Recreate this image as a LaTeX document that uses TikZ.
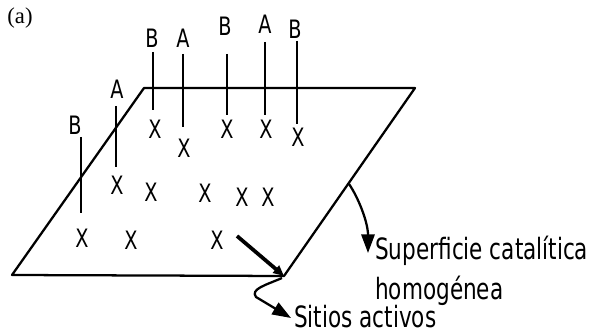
\documentclass[tikz,border=0pt]{standalone}
\usepackage{fontspec}
\setmainfont{Liberation Serif}
\newfontfamily\lettering{DejaVu Sans}
\usetikzlibrary{arrows.meta}

% condensed lettering, as in the drawn figure
\newcommand{\narrow}[1]{\scalebox{0.76}[1]{\lettering #1}}
\newcommand{\narrowtext}[1]{\scalebox{0.735}[1]{\lettering #1}}

\tikzset{
  surface/.style={line width=1.7},
  site/.style={line width=1.1},
  sitelabel/.style={inner sep=0pt,font=\fontsize{19}{19}\selectfont},
  caption/.style={inner sep=0pt,anchor=base west,font=\fontsize{22}{24}\selectfont},
  bigtip/.style={-{Triangle[length=14pt,width=10pt]}}
}

\begin{document}
\begin{tikzpicture}[x=0.75pt,y=0.75pt,yscale=-1,xscale=1]
\path[use as bounding box] (0,0) rectangle (594,335);

% panel letter
\node (panel) [inner sep=0pt,font=\fontsize{17}{17}\selectfont] at (20,18) {(a)};

%Catalytic surface (parallelogram)
\draw [surface,line join=round] (12,275) -- (144,88) -- (415,88) -- (284,276) -- cycle ;
\coordinate (corner) at (284,276);
\coordinate (edge) at (349,184);
\coordinate (surftip) at (368,253);
\coordinate (sitiostip) at (291,318);

%Adsorbed species A and B on their sticks
\node (b1) [sitelabel] at (75,125) {\narrow{B}};
\draw [site] (81,137) -- (81,213) ;
\node (a1) [sitelabel] at (117,89) {\narrow{A}};
\draw [site] (116,106) -- (116,167) ;
\node (b2) [sitelabel] at (152,38) {\narrow{B}};
\draw [site] (153,52) -- (153,110) ;
\node (a2) [sitelabel] at (183,38) {\narrow{A}};
\draw [site] (183,54) -- (183,127) ;
\node (b3) [sitelabel] at (225,26) {\narrow{B}};
\draw [site] (227,54) -- (227,115) ;
\node (a3) [sitelabel] at (265,24) {\narrow{A}};
\draw [site] (265,42) -- (265,115) ;
\node (b4) [sitelabel] at (295,29) {\narrow{B}};
\draw [site] (297,41) -- (297,124) ;

%Active sites
\foreach \i/\px/\py in {1/155/129, 2/184/148, 3/227/129, 4/266/129, 5/298/137,
                        6/117/185, 7/151/192, 8/205/193, 9/242/197, 10/268/197,
                        11/82/238, 12/131/240, 13/217/240}
  \node (x\i) [sitelabel] at (\px,\py) {\narrow{X}};

%Labels
\node (surf) [caption] at (375,260) {\narrowtext{Superficie catalítica}};
\node (homog) [caption] at (375,300) {\narrowtext{homogénea}};
\node (sitios) [caption] at (294,328) {\narrowtext{Sitios activos}};

%Arrows
\draw [line width=2.8,-{Triangle[length=8pt,width=7pt]}] (237,236) -- (corner) ;
\draw [line width=1.7,bigtip] (282,278) .. controls (266,285) and (250,289) .. (256,297) -- (sitiostip) ;
\draw [line width=1.7,bigtip] (edge) .. controls (358,197) and (368,222) .. (surftip) ;

\end{tikzpicture}
\end{document}
